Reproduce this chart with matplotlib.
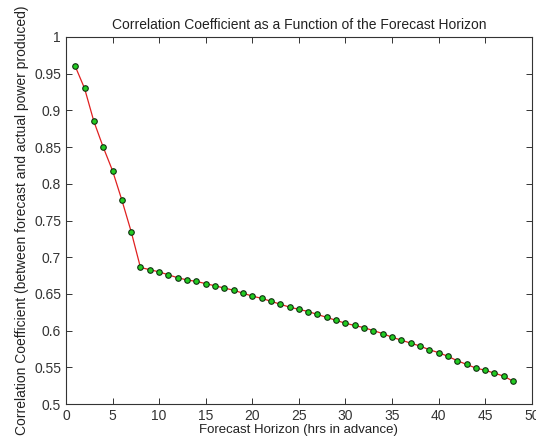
import matplotlib
matplotlib.use("Agg")
import matplotlib.pyplot as plt
import numpy as np

plt.rcParams['font.family'] = ['Liberation Sans', 'DejaVu Sans']

# forecast horizon (hours) and correlation coefficient
hours = list(range(1, 49))
corr = [0.960, 0.930, 0.885, 0.850, 0.818, 0.778, 0.735, 0.686,
        0.683, 0.680, 0.676, 0.672, 0.669, 0.667, 0.664, 0.661,
        0.658, 0.655, 0.651, 0.647, 0.644, 0.640, 0.636, 0.632,
        0.629, 0.626, 0.622, 0.618, 0.614, 0.610, 0.607, 0.604,
        0.600, 0.596, 0.591, 0.587, 0.583, 0.579, 0.574, 0.570,
        0.565, 0.559, 0.554, 0.549, 0.546, 0.542, 0.538, 0.531]

xticks = list(range(0, 51, 5))
yticks = [0.5, 0.55, 0.6, 0.65, 0.7, 0.75, 0.8, 0.85, 0.9, 0.95, 1]
yticklabels = ['0.5', '0.55', '0.6', '0.65', '0.7', '0.75', '0.8', '0.85', '0.9', '0.95', '1']

fig = plt.figure(figsize=(5.36, 4.43), dpi=100)
ax = fig.add_axes([0.123, 0.088, 0.869, 0.8285])

ax.plot(hours, corr, color='#e02020', linewidth=0.9,
        marker='o', markersize=4, markerfacecolor='#22cc22',
        markeredgecolor='#103010', markeredgewidth=0.8)

ax.set_xlim(0, 50)
ax.set_ylim(0.5, 1)
ax.set_xticks(xticks)
ax.set_xticklabels([str(t) for t in xticks])
ax.set_yticks(yticks)
ax.set_yticklabels(yticklabels)
ax.tick_params(direction='in', top=True, right=True, length=4,
               labelsize=10, colors='#333333', width=0.7)
for s in ax.spines.values():
    s.set_color('#333333')
    s.set_linewidth(0.8)

ax.set_title('Correlation Coefficient as a Function of the Forecast Horizon',
             fontsize=10, color='#222222', pad=6)
ax.set_xlabel('Forecast Horizon (hrs in advance)', fontsize=9.5, color='#222222', labelpad=1)
ax.set_ylabel('Correlation Coefficient (between forecast and actual power produced)',
              fontsize=10, color='#222222', labelpad=4)

fig.savefig('out.png', dpi=100)
